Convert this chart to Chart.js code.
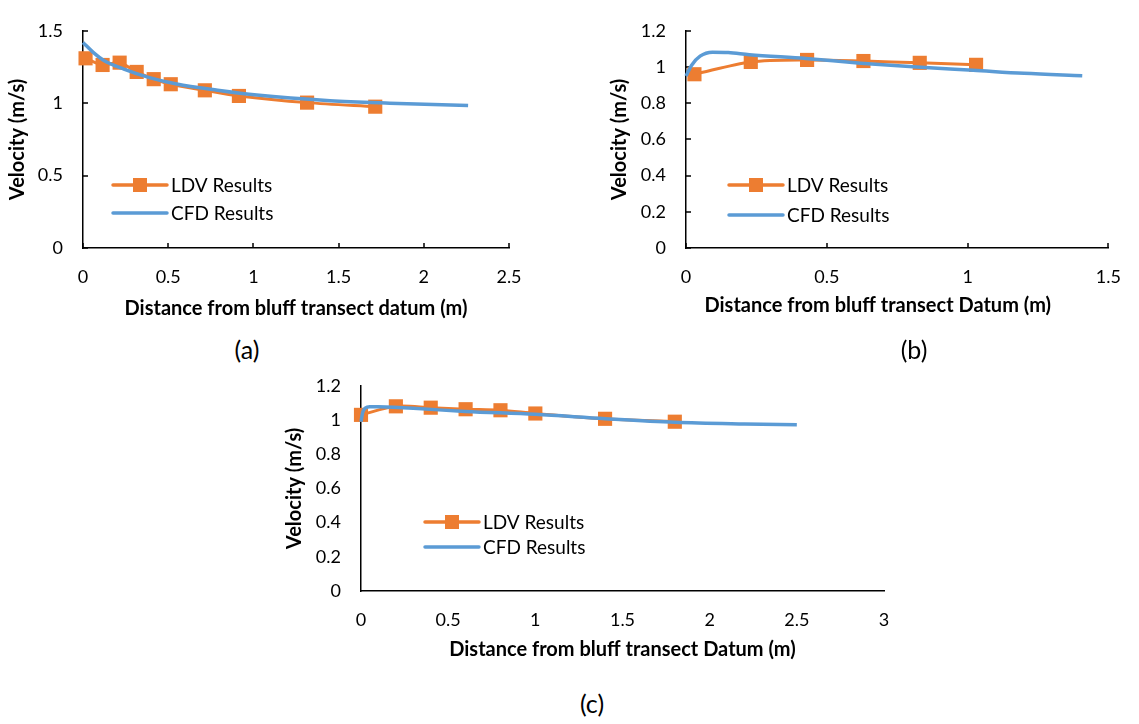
<!DOCTYPE html>
<html>
<head>
<meta charset="utf-8">
<title>LDV vs CFD velocity</title>
<script src="https://cdn.jsdelivr.net/npm/chart.js@4.4.1/dist/chart.umd.min.js"></script>
<style>
  html, body { margin: 0; padding: 0; background: #fff; }
  body { position: relative; width: 1139px; height: 724px; overflow: hidden; font-family: Lato, sans-serif; }
  canvas { position: absolute; }
  .cap { position: absolute; font-size: 25px; color: #000; transform: translate(-50%, -50%); }
</style>
</head>
<body>
<canvas id="chart-a" width="540" height="330" style="left:0;top:0"></canvas>
<canvas id="chart-b" width="539" height="330" style="left:600px;top:0"></canvas>
<canvas id="chart-c" width="630" height="320" style="left:280px;top:355px"></canvas>
<div class="cap" style="left:247px;top:349px">(a)</div>
<div class="cap" style="left:914px;top:349px">(b)</div>
<div class="cap" style="left:592px;top:703px">(c)</div>

<script>
// ─── Data ────────────────────────────────────────────────────────
const seriesLabels = ["LDV Results", "CFD Results"];

// (a)
const xTicksA = [0, 0.5, 1, 1.5, 2, 2.5];
const yTicksA = [0, 0.5, 1, 1.5];
const ldvDistA = [0.015, 0.115, 0.215, 0.315, 0.415, 0.515, 0.715, 0.915, 1.315, 1.715];
const ldvVelA  = [1.31, 1.264, 1.28, 1.216, 1.166, 1.131, 1.089, 1.05, 1.004, 0.976];
const cfdDistA = [0, 0.06, 0.12, 0.24, 0.39, 0.55, 0.79, 1.02, 1.45, 1.8, 2.26];
const cfdVelA  = [1.42, 1.351, 1.297, 1.236, 1.177, 1.133, 1.09, 1.056, 1.017, 1.0, 0.984];

// (b)
const xTicksB = [0, 0.5, 1, 1.5];
const yTicksB = [0, 0.2, 0.4, 0.6, 0.8, 1, 1.2];
const ldvDistB = [0.03, 0.23, 0.43, 0.63, 0.83, 1.03];
const ldvVelB  = [0.96, 1.028, 1.039, 1.033, 1.023, 1.012];
const cfdDistB = [0, 0.02, 0.05, 0.094, 0.15, 0.225, 0.425, 0.62, 0.82, 1.02, 1.2, 1.407];
const cfdVelB  = [0.95, 1.01, 1.06, 1.082, 1.08, 1.068, 1.047, 1.021, 1.0, 0.982, 0.965, 0.952];

// (c)
const xTicksC = [0, 0.5, 1, 1.5, 2, 2.5, 3];
const yTicksC = [0, 0.2, 0.4, 0.6, 0.8, 1, 1.2];
const ldvDistC = [0, 0.2, 0.4, 0.6, 0.8, 1.0, 1.4, 1.8];
const ldvVelC  = [1.03, 1.08, 1.072, 1.063, 1.057, 1.038, 1.007, 0.99];
const cfdDistC = [0, 0.01, 0.025, 0.05, 0.1, 0.3, 0.6, 1.0, 1.4, 1.8, 2.2, 2.5];
const cfdVelC  = [0.99, 1.045, 1.07, 1.078, 1.077, 1.068, 1.05, 1.033, 1.008, 0.987, 0.977, 0.972];

const ORANGE = "#ED7D31";
const BLUE = "#5B9BD5";
const FONT = "Lato, 'Open Sans', sans-serif";

const toPoints = (xs, ys) => xs.map((x, i) => ({ x, y: ys[i] }));

// ─── Plugins ─────────────────────────────────────────────────────
// small tick marks pointing into the plot, like the Excel originals
const innerTicks = {
    id: "innerTicks",
    beforeDatasetsDraw(chart, args, opts) {
        if (!opts.length) return;
        const { ctx, chartArea, scales: { x, y } } = chart;
        ctx.save();
        ctx.strokeStyle = "#000";
        ctx.lineWidth = 1.5;
        ctx.beginPath();
        x.ticks.forEach(t => {
            const px = Math.round(x.getPixelForValue(t.value));
            ctx.moveTo(px, chartArea.bottom);
            ctx.lineTo(px, chartArea.bottom - opts.length);
        });
        y.ticks.forEach(t => {
            const py = Math.round(y.getPixelForValue(t.value));
            ctx.moveTo(chartArea.left, py);
            ctx.lineTo(chartArea.left + opts.length, py);
        });
        ctx.stroke();
        ctx.restore();
    }
};

// legend drawn inside the plot area
const innerLegend = {
    id: "innerLegend",
    afterDraw(chart, args, opts) {
        const { ctx } = chart;
        ctx.save();
        chart.data.datasets.forEach((ds, i) => {
            const y = opts.y + i * opts.gap;
            ctx.strokeStyle = ds.borderColor;
            ctx.lineWidth = 3.5;
            ctx.lineCap = "round";
            ctx.beginPath();
            ctx.moveTo(opts.x, y);
            ctx.lineTo(opts.x + 54, y);
            ctx.stroke();
            if (ds.pointRadius > 0) {
                ctx.fillStyle = ds.pointBackgroundColor;
                ctx.fillRect(opts.x + 27 - 7, y - 7, 14, 14);
            }
            ctx.fillStyle = "#000";
            ctx.font = `19px ${FONT}`;
            ctx.textBaseline = "middle";
            ctx.fillText(ds.label, opts.x + 58, y + 1);
        });
        ctx.restore();
    }
};

// ─── Chart builder ───────────────────────────────────────────────
function makeChart(id, s) {
    const ldv = {
        label: seriesLabels[0],
        data: toPoints(s.ldvX, s.ldvY),
        showLine: true,
        borderColor: ORANGE,
        borderWidth: 3,
        tension: 0.3,
        pointStyle: "rect",
        pointRadius: 10,
        pointBackgroundColor: ORANGE,
        pointBorderColor: ORANGE,
        pointBorderWidth: 0,
        clip: false,
        order: 1,
    };
    const cfd = {
        label: seriesLabels[1],
        data: toPoints(s.cfdX, s.cfdY),
        showLine: true,
        borderColor: BLUE,
        borderWidth: 3.5,
        cubicInterpolationMode: "monotone",
        pointRadius: 0,
        clip: false,
        order: 0,
    };

    return new Chart(document.getElementById(id), {
        type: "scatter",
        data: { datasets: [ldv, cfd] },
        options: {
            responsive: false,
            animation: false,
            events: [],
            layout: { padding: s.padding },
            plugins: {
                legend: { display: false },
                tooltip: { enabled: false },
                innerTicks: { length: s.tickMarks ? 5 : 0 },
                innerLegend: s.legend,
            },
            scales: {
                x: {
                    type: "linear",
                    min: s.xTicks[0],
                    max: s.xTicks[s.xTicks.length - 1],
                    afterBuildTicks: sc => { sc.ticks = s.xTicks.map(v => ({ value: v })); },
                    afterFit: sc => { sc.height = s.xHeight; },
                    grid: { display: true, drawOnChartArea: false, drawTicks: false },
                    border: { color: "#000", width: 1.5 },
                    ticks: {
                        color: "#000", font: { family: FONT, size: 18 }, padding: 18,
                        maxRotation: 0, autoSkip: false, callback: v => String(v)
                    },
                    title: {
                        display: true, text: s.xTitle, color: "#000",
                        font: { family: FONT, size: 20, weight: "bold" },
                        padding: { top: 0, bottom: s.xTitlePad }
                    }
                },
                y: {
                    type: "linear",
                    min: s.yTicks[0],
                    max: s.yTicks[s.yTicks.length - 1],
                    afterBuildTicks: sc => { sc.ticks = s.yTicks.map(v => ({ value: v })); },
                    afterFit: sc => { sc.width = s.yWidth; },
                    grid: { display: true, drawOnChartArea: false, drawTicks: false },
                    border: { color: "#000", width: 1.5 },
                    ticks: {
                        color: "#000", font: { family: FONT, size: 18 }, padding: 20,
                        callback: v => String(v)
                    },
                    title: {
                        display: true, text: "Velocity (m/s)", color: "#000",
                        font: { family: FONT, size: 20, weight: "bold" },
                        padding: { top: s.yTitlePad, bottom: 0 }
                    }
                }
            }
        },
        plugins: [innerTicks, innerLegend]
    });
}

makeChart("chart-a", {
    ldvX: ldvDistA, ldvY: ldvVelA, cfdX: cfdDistA, cfdY: cfdVelA,
    xTicks: xTicksA, yTicks: yTicksA,
    xTitle: "Distance from bluff transect datum (m)",
    padding: { top: 19, right: 31, bottom: 0, left: 0 },
    yWidth: 83, xHeight: 82, xTitlePad: 9, yTitlePad: 6,
    tickMarks: true,
    legend: { x: 113, y: 185, gap: 28 },
});

makeChart("chart-b", {
    ldvX: ldvDistB, ldvY: ldvVelB, cfdX: cfdDistB, cfdY: cfdVelB,
    xTicks: xTicksB, yTicks: yTicksB,
    // trailing spaces nudge the centred title left, as in the original
    xTitle: "Distance from bluff transect Datum (m)" + "\u00a0".repeat(8),
    padding: { top: 20, right: 18, bottom: 0, left: 0 },
    yWidth: 86, xHeight: 82, xTitlePad: 12, yTitlePad: 8,
    tickMarks: true,
    legend: { x: 129, y: 185, gap: 30 },
});

makeChart("chart-c", {
    ldvX: ldvDistC, ldvY: ldvVelC, cfdX: cfdDistC, cfdY: cfdVelC,
    xTicks: xTicksC, yTicks: yTicksC,
    xTitle: "Distance from bluff transect Datum (m)",
    padding: { top: 23, right: 26, bottom: 0, left: 0 },
    yWidth: 81, xHeight: 84, xTitlePad: 13, yTitlePad: 3,
    tickMarks: false,
    legend: { x: 145, y: 167, gap: 25 },
});
</script>
</body>
</html>
